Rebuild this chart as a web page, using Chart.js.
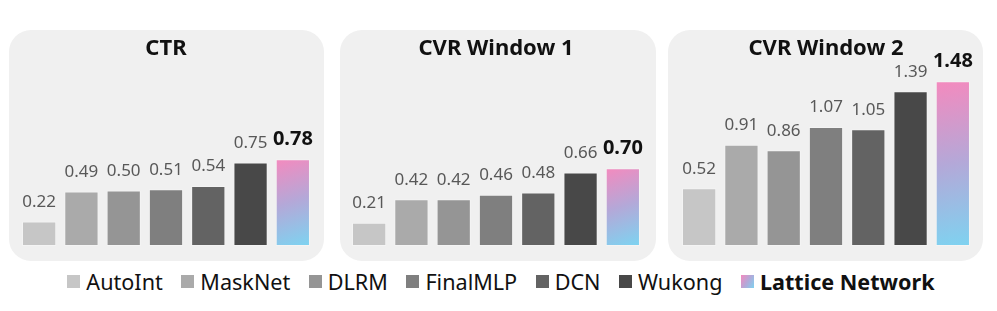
<!DOCTYPE html>
<html>
<head>
<meta charset="utf-8">
<script src="https://cdn.jsdelivr.net/npm/chart.js@4/dist/chart.umd.min.js"></script>
<style>
  html, body { margin:0; padding:0; background:#ffffff; }
  body { width:997px; height:311px; position:relative; overflow:hidden; font-family:"Noto Sans", sans-serif; }
  .panel { position:absolute; top:30px; height:231px; background:#f0f0f0; border-radius:22px; }
  .cwrap { position:absolute; top:30px; height:216px; width:296px; }
  #legend { position:absolute; top:267px; left:0; width:1002px; display:flex; justify-content:center; align-items:center; gap:18.5px; font-size:21.6px; color:#111; }
  .li { display:flex; align-items:center; gap:6px; white-space:nowrap; }
  .sw { width:13px; height:13px; display:inline-block; }
</style>
</head>
<body>
<div class="panel" style="left:9px;width:315px"></div>
<div class="panel" style="left:340px;width:316px"></div>
<div class="panel" style="left:668px;width:315px"></div>
<div class="cwrap" style="left:18px"><canvas id="c0"></canvas></div>
<div class="cwrap" style="left:348px"><canvas id="c1"></canvas></div>
<div class="cwrap" style="left:678px"><canvas id="c2"></canvas></div>
<div id="legend"></div>
<script>
const models = ["AutoInt", "MaskNet", "DLRM", "FinalMLP", "DCN", "Wukong", "Lattice Network"];
const panelTitles = ["CTR", "CVR Window 1", "CVR Window 2"];
const ctrValues = [0.22, 0.49, 0.50, 0.51, 0.54, 0.75, 0.78];
const cvrWindow1Values = [0.21, 0.42, 0.42, 0.46, 0.48, 0.66, 0.70];
const cvrWindow2Values = [0.52, 0.91, 0.86, 1.07, 1.05, 1.39, 1.48];
const panelValues = [ctrValues, cvrWindow1Values, cvrWindow2Values];

const grayColors = ["#c6c6c6", "#aaaaaa", "#959595", "#7f7f7f", "#636363", "#484848"];
const gradTop = "#f48abe", gradMid = "#b4a8d8", gradBottom = "#7fd2f0";

function barColor(ctx) {
  const i = ctx.dataIndex;
  if (i < grayColors.length) return grayColors[i];
  const chart = ctx.chart;
  const xs = chart.scales.x, ys = chart.scales.y;
  if (!chart.chartArea || !xs || !ys) return gradMid;
  const cx = xs.getPixelForValue(i);
  const half = 17;
  const top = ys.getPixelForValue(ctx.raw);
  const bottom = ys.getPixelForValue(0);
  const g = chart.ctx.createLinearGradient(cx - half, top, cx + half * 0.6, bottom);
  g.addColorStop(0, gradTop);
  g.addColorStop(0.5, gradMid);
  g.addColorStop(1, gradBottom);
  return g;
}

const valueLabels = {
  id: "valueLabels",
  afterDatasetsDraw(chart) {
    const ctx = chart.ctx;
    const meta = chart.getDatasetMeta(0);
    const data = chart.data.datasets[0].data;
    ctx.save();
    ctx.textAlign = "center";
    ctx.textBaseline = "alphabetic";
    meta.data.forEach((bar, i) => {
      const last = i === data.length - 1;
      ctx.font = last ? "bold 20px 'Noto Sans'" : "17px 'Noto Sans'";
      ctx.fillStyle = last ? "#111111" : "#585858";
      ctx.fillText(data[i].toFixed(2), bar.x, bar.y - 14.5);
    });
    ctx.restore();
  }
};

panelValues.forEach((vals, p) => {
  new Chart(document.getElementById("c" + p), {
    type: "bar",
    data: {
      labels: models,
      datasets: [{
        data: vals,
        backgroundColor: barColor,
        borderColor: "rgba(255,255,255,0.28)",
        borderWidth: 1,
        borderSkipped: false,
        barPercentage: 0.81,
        categoryPercentage: 1.0
      }]
    },
    options: {
      responsive: true,
      maintainAspectRatio: false,
      animation: false,
      layout: { padding: 0 },
      plugins: {
        legend: { display: false },
        tooltip: { enabled: false },
        title: {
          display: true,
          text: panelTitles[p],
          color: "#111111",
          font: { family: "'Noto Sans'", size: 22, weight: "bold", lineHeight: 1.2 },
          padding: { top: 5.4, bottom: 6.2 }
        }
      },
      scales: {
        x: { display: false, offset: true, grid: { display: false } },
        y: { display: false, min: 0, max: 1.6, grid: { display: false } }
      }
    },
    plugins: [valueLabels]
  });
});

const legend = document.getElementById("legend");
models.forEach((m, i) => {
  const item = document.createElement("div");
  item.className = "li";
  const sw = document.createElement("span");
  sw.className = "sw";
  sw.style.background = i < grayColors.length ? grayColors[i] : "linear-gradient(120deg," + gradTop + "," + gradMid + "," + gradBottom + ")";
  const t = document.createElement("span");
  t.textContent = m;
  if (i === models.length - 1) t.style.fontWeight = "bold";
  item.appendChild(sw);
  item.appendChild(t);
  legend.appendChild(item);
});
</script>
</body>
</html>
